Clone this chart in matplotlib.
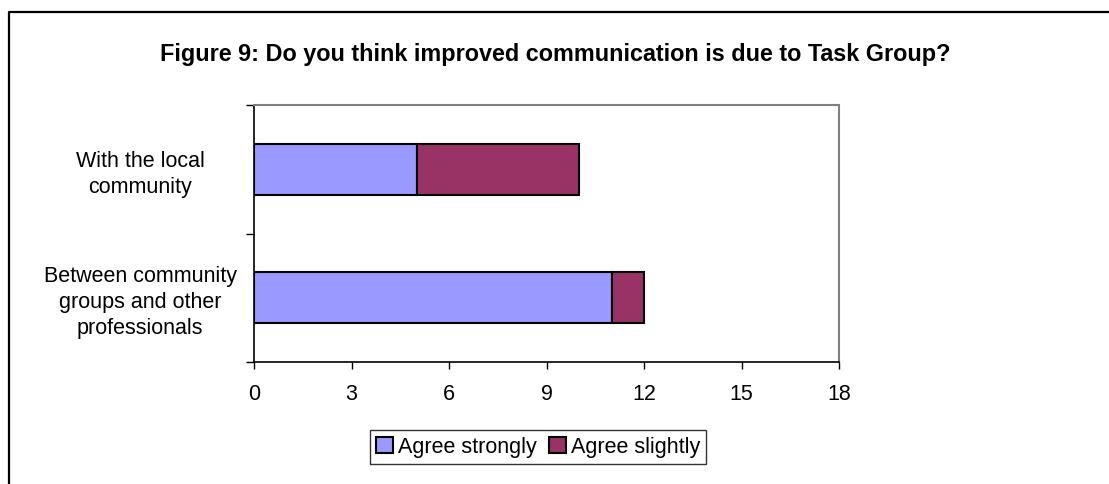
import matplotlib
matplotlib.use("Agg")
import matplotlib.pyplot as plt
from matplotlib.lines import Line2D
from matplotlib.patches import Patch
import numpy as np

plt.rcParams['font.family'] = ['Liberation Sans', 'DejaVu Sans']

# data
categories = ["Between community\ngroups and other\nprofessionals", "With the local\ncommunity"]
agree_strongly = [11, 5]
agree_slightly = [1, 5]
series_names = ["Agree strongly", "Agree slightly"]
colors = ["#9999FF", "#993366"]
xticks = [0, 3, 6, 9, 12, 15, 18]

fig = plt.figure(figsize=(11.09, 4.84), dpi=100)
ax = fig.add_axes([254 / 1109, 1 - 362 / 484, 585 / 1109, 257 / 484])

y = np.arange(len(categories))
ax.barh(y, agree_strongly, height=0.4, color=colors[0], edgecolor="black", linewidth=1.5)
ax.barh(y, agree_slightly, height=0.4, left=agree_strongly, color=colors[1],
        edgecolor="black", linewidth=1.5)

ax.set_xlim(0, 18)
ax.set_ylim(-0.5, 1.5)
ax.set_xticks(xticks)
ax.tick_params(axis="x", direction="out", length=5, width=1, labelsize=15.5, pad=11)
ax.set_yticks(y)
ax.set_yticklabels(categories, fontsize=15.5, ha="center", linespacing=1.3)
ax.tick_params(axis="y", which="major", length=0, pad=82)
ax.set_yticks([-0.5, 0.5, 1.5], minor=True)
ax.tick_params(axis="y", which="minor", direction="out", length=6, width=1)

for s in ["left", "bottom"]:
    ax.spines[s].set_color("black")
    ax.spines[s].set_linewidth(1.2)
for s in ["top", "right"]:
    ax.spines[s].set_color("#808080")
    ax.spines[s].set_linewidth(1.5)

fig.text(555 / 1109, 1 - 55 / 484, "Figure 9: Do you think improved communication is due to Task Group?",
         ha="center", va="center", fontsize=16.8, fontweight="bold")

handles = [Patch(facecolor=c, edgecolor="black", linewidth=1.5) for c in colors]
leg = fig.legend(handles, series_names, loc="center", bbox_to_anchor=(538 / 1109, 1 - 447 / 484),
                 ncol=2, fontsize=15.5, frameon=True, fancybox=False, handlelength=0.8,
                 handleheight=0.8, handletextpad=0.2, columnspacing=0.6, borderpad=0.3,
                 borderaxespad=0)
leg.get_frame().set_edgecolor("black")
leg.get_frame().set_linewidth(1.0)

# outer chart border (only left and top edges visible in the crop)
bx = 9 / 1109
by = 1 - 12 / 484
fig.add_artist(Line2D([bx, bx, 1.0], [0.0, by, by], transform=fig.transFigure,
                      color="black", linewidth=1.6))

fig.savefig("out.png", dpi=100)
